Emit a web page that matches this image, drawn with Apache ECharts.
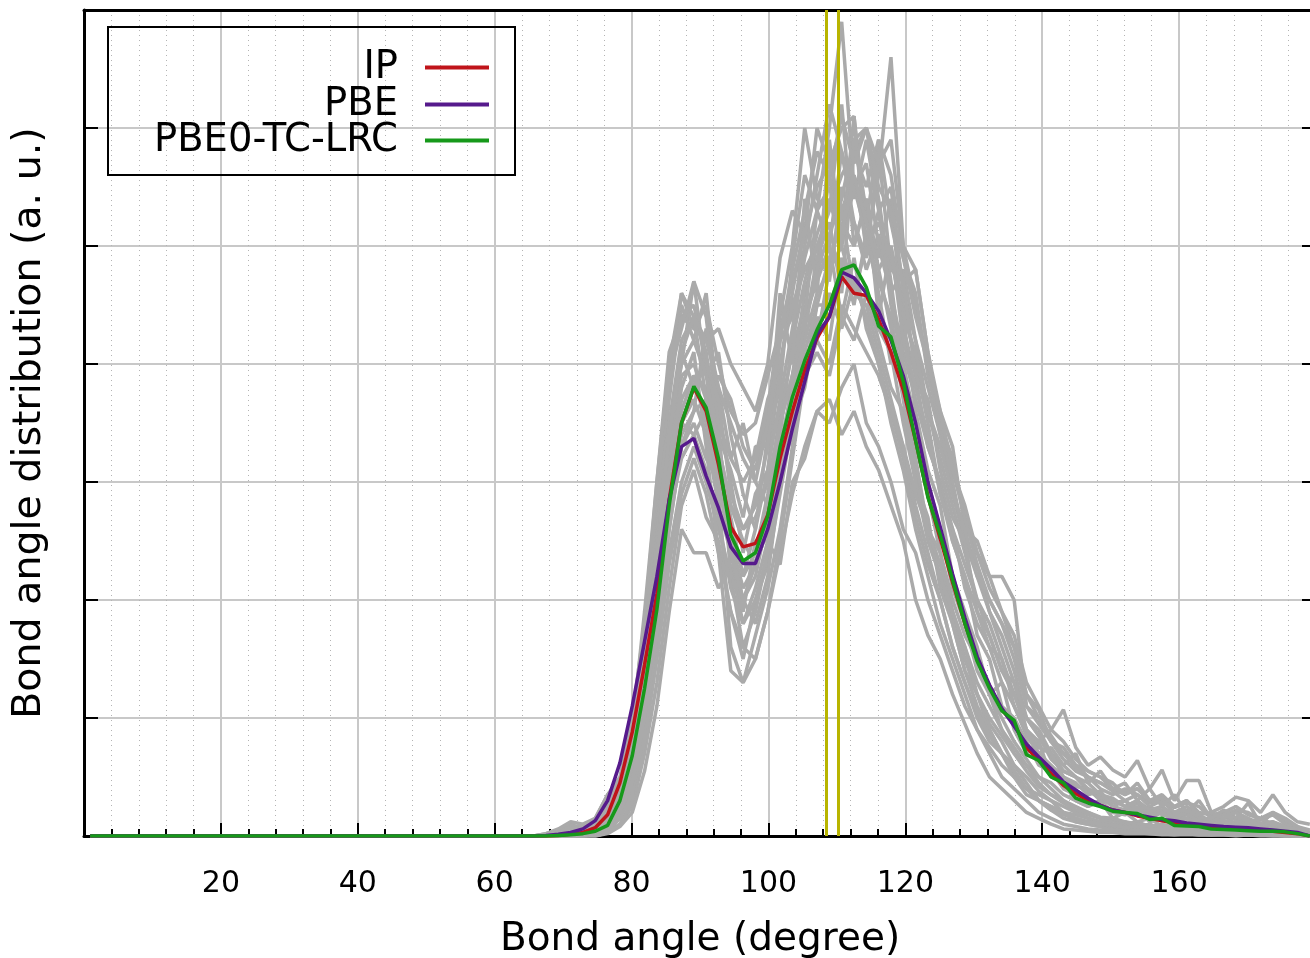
<!DOCTYPE html>
<html>
<head>
<meta charset="utf-8">
<script src="https://cdn.jsdelivr.net/npm/echarts@6/dist/echarts.min.js"></script>
<style>html,body{margin:0;padding:0;background:#fff}#chart{width:1310px;height:958px}</style>
</head>
<body>
<div id="chart"></div>
<script>
// Bin centres (degree); first point is the flat start at the left of the axis
const angles = [0.9, 65.7, 67.5, 69.3, 71.1, 72.9, 74.7, 76.5, 78.3, 80.1, 81.9, 83.7, 85.5, 87.3, 89.1, 90.9, 92.7,
  94.5, 96.3, 98.1, 99.9, 101.7, 103.5, 105.3, 107.1, 108.9, 110.7, 112.5, 114.3, 116.1, 117.9, 119.7, 121.5,
  123.3, 125.1, 126.9, 128.7, 130.5, 132.3, 134.1, 135.9, 137.7, 139.5, 141.3, 143.1, 144.9, 146.7, 148.5, 150.3,
  152.1, 153.9, 155.7, 157.5, 159.3, 161.1, 162.9, 164.7, 166.5, 168.3, 170.1, 171.9, 173.7, 175.5, 177.3, 179.1];

const ipValues = [0, 0, 0, 0.005, 0.015, 0.03, 0.07, 0.18, 0.45, 0.88, 1.45, 2.05, 2.85, 3.5, 3.8, 3.6, 3.15,
  2.62, 2.45, 2.48, 2.72, 3.2, 3.6, 3.95, 4.22, 4.4, 4.74, 4.6, 4.58, 4.38, 4.1, 3.78, 3.35,
  2.88, 2.52, 2.15, 1.8, 1.5, 1.27, 1.07, 0.95, 0.75, 0.64, 0.53, 0.43, 0.36, 0.3, 0.26, 0.22,
  0.2, 0.17, 0.15, 0.13, 0.11, 0.1, 0.09, 0.08, 0.07, 0.06, 0.05, 0.05, 0.04, 0.03, 0.02, 0.0];

const pbeValues = [0, 0, 0.005, 0.015, 0.03, 0.06, 0.13, 0.3, 0.62, 1.1, 1.65, 2.2, 2.85, 3.3, 3.37, 3.05, 2.78,
  2.45, 2.31, 2.31, 2.6, 3.0, 3.45, 3.85, 4.25, 4.4, 4.78, 4.73, 4.6, 4.45, 4.2, 3.9, 3.5,
  3.0, 2.62, 2.22, 1.85, 1.52, 1.28, 1.08, 0.93, 0.78, 0.67, 0.57, 0.46, 0.39, 0.32, 0.26, 0.22,
  0.2, 0.18, 0.16, 0.14, 0.13, 0.11, 0.1, 0.09, 0.08, 0.075, 0.07, 0.06, 0.05, 0.04, 0.03, 0.0];

const pbe0Values = [0, 0, 0, 0.005, 0.01, 0.02, 0.04, 0.09, 0.3, 0.68, 1.25, 1.92, 2.8, 3.5, 3.81, 3.63, 3.2,
  2.55, 2.33, 2.4, 2.71, 3.3, 3.72, 4.03, 4.29, 4.5, 4.8, 4.84, 4.65, 4.32, 4.23, 3.85, 3.35,
  2.87, 2.55, 2.17, 1.8, 1.48, 1.25, 1.06, 0.98, 0.69, 0.64, 0.5, 0.45, 0.32, 0.28, 0.25, 0.21,
  0.2, 0.19, 0.14, 0.15, 0.09, 0.085, 0.08, 0.06, 0.055, 0.05, 0.045, 0.04, 0.04, 0.035, 0.02, 0.0];

// Individual (grey) distributions
const grey01 = [0, 0, 0, 0.02, 0.05, 0.03, 0.08, 0.2, 0.4, 0.8, 1.5, 2.6, 3.7, 4.5, 4.2, 4.6, 3.6,
  3.0, 2.4, 2.9, 3.1, 4.0, 4.6, 5.2, 4.8, 5.6, 5.1, 5.9, 5.3, 4.9, 5.4, 4.3, 3.9,
  3.3, 3.0, 2.5, 2.2, 1.7, 1.5, 1.1, 1.0, 0.8, 0.6, 0.55, 0.4, 0.35, 0.3, 0.28, 0.2,
  0.18, 0.22, 0.12, 0.15, 0.1, 0.12, 0.08, 0.06, 0.05, 0.08, 0.04, 0.05, 0.03, 0.04, 0.02, 0];
const grey02 = [0, 0, 0, 0, 0, 0, 0.01, 0.03, 0.1, 0.25, 0.7, 1.3, 2.1, 2.8, 3.1, 2.7, 2.5,
  1.9, 1.5, 2.0, 2.3, 2.9, 3.5, 3.8, 4.4, 4.2, 4.9, 4.5, 5.1, 4.6, 4.0, 4.4, 3.6,
  3.1, 2.8, 2.2, 1.9, 1.6, 1.2, 1.3, 0.9, 0.7, 0.8, 0.5, 0.45, 0.3, 0.25, 0.3, 0.15,
  0.2, 0.12, 0.15, 0.08, 0.1, 0.06, 0.07, 0.04, 0.05, 0.03, 0.04, 0.02, 0.03, 0.02, 0.01, 0];
const grey03 = [0, 0, 0.02, 0.05, 0.1, 0.06, 0.12, 0.3, 0.45, 0.9, 1.6, 2.4, 3.4, 4.0, 4.7, 3.9, 4.1,
  3.4, 2.9, 2.6, 3.4, 3.8, 4.9, 5.6, 5.3, 6.0, 6.9, 5.5, 5.7, 5.0, 4.6, 4.8, 4.2,
  3.6, 3.2, 2.8, 2.4, 2.0, 1.8, 1.5, 1.2, 1.0, 0.9, 0.7, 0.55, 0.5, 0.45, 0.35, 0.3,
  0.25, 0.3, 0.2, 0.22, 0.15, 0.18, 0.12, 0.1, 0.12, 0.08, 0.1, 0.06, 0.08, 0.05, 0.03, 0.01];
const grey04 = [0, 0, 0, 0, 0.02, 0.01, 0.03, 0.1, 0.3, 0.6, 1.2, 2.0, 3.0, 3.6, 3.9, 3.5, 2.9,
  1.6, 1.3, 1.7, 2.1, 2.6, 3.3, 4.3, 4.9, 5.2, 4.6, 5.8, 6.0, 5.4, 4.7, 3.9, 3.3,
  2.9, 2.4, 1.9, 1.5, 1.2, 0.9, 0.7, 0.6, 0.45, 0.3, 0.25, 0.2, 0.12, 0.1, 0.08, 0.06,
  0.05, 0.04, 0.05, 0.03, 0.02, 0.03, 0.02, 0.01, 0.02, 0.01, 0.02, 0.01, 0.01, 0.01, 0, 0];
const grey05 = [0, 0, 0, 0.01, 0.03, 0.05, 0.1, 0.25, 0.4, 0.8, 1.3, 2.2, 2.9, 3.4, 3.6, 4.3, 3.8,
  3.2, 3.5, 3.0, 2.8, 3.6, 4.1, 4.5, 4.2, 4.8, 5.3, 4.6, 5.0, 5.6, 6.6, 5.0, 4.5,
  4.0, 3.4, 3.1, 2.7, 2.4, 2.1, 1.9, 1.6, 1.2, 1.07, 0.8, 0.7, 0.6, 0.5, 0.45, 0.4,
  0.35, 0.45, 0.3, 0.35, 0.25, 0.3, 0.2, 0.18, 0.2, 0.25, 0.18, 0.15, 0.2, 0.12, 0.08, 0.03];
const grey06 = [0, 0, 0, 0, 0, 0.02, 0.05, 0.15, 0.35, 0.7, 1.1, 1.8, 2.6, 3.3, 3.5, 3.2, 3.0,
  2.6, 2.2, 2.4, 2.9, 3.5, 3.9, 4.6, 5.0, 4.7, 5.5, 5.2, 4.8, 5.1, 4.6, 4.1, 3.7,
  3.3, 3.0, 2.6, 2.3, 2.0, 1.7, 1.4, 1.3, 0.9, 0.8, 0.9, 1.07, 0.75, 0.6, 0.67, 0.56,
  0.5, 0.64, 0.4, 0.56, 0.3, 0.47, 0.47, 0.2, 0.25, 0.33, 0.3, 0.2, 0.35, 0.2, 0.12, 0.1];
const grey07 = [0, 0, 0.02, 0.06, 0.12, 0.1, 0.15, 0.35, 0.5, 1.0, 1.8, 3.0, 4.1, 4.4, 4.5, 4.0, 3.3,
  2.8, 2.5, 2.3, 2.6, 3.2, 3.8, 4.4, 4.7, 5.0, 4.4, 4.9, 4.3, 4.0, 3.6, 3.2, 2.7,
  2.3, 2.0, 1.6, 1.3, 1.0, 0.8, 0.7, 0.5, 0.4, 0.35, 0.3, 0.2, 0.18, 0.15, 0.12, 0.1,
  0.08, 0.1, 0.06, 0.05, 0.04, 0.05, 0.03, 0.02, 0.03, 0.02, 0.02, 0.01, 0.02, 0.01, 0.01, 0];
const grey08 = [0, 0, 0, 0.01, 0.02, 0.02, 0.06, 0.18, 0.4, 0.75, 1.4, 2.3, 3.2, 3.9, 4.0, 3.7, 3.9,
  3.7, 3.3, 3.1, 3.6, 4.4, 5.0, 6.0, 5.4, 5.3, 6.2, 5.0, 5.4, 4.4, 5.0, 4.5, 4.0,
  3.5, 2.9, 2.6, 2.1, 1.8, 1.6, 1.3, 1.1, 0.85, 0.7, 0.6, 0.5, 0.42, 0.4, 0.3, 0.28,
  0.3, 0.2, 0.25, 0.18, 0.15, 0.2, 0.12, 0.1, 0.08, 0.12, 0.1, 0.07, 0.09, 0.05, 0.03, 0];
const grey09 = [0, 0, 0, 0, 0, 0, 0, 0.02, 0.08, 0.2, 0.55, 1.1, 1.9, 2.6, 2.4, 2.4, 2.1,
  2.3, 1.8, 2.1, 2.5, 2.3, 3.0, 3.2, 3.6, 3.5, 3.8, 4.0, 3.5, 3.3, 3.0, 2.6, 2.4,
  2.0, 1.7, 1.4, 1.1, 0.9, 0.7, 0.5, 0.4, 0.3, 0.2, 0.15, 0.1, 0.08, 0.06, 0.05, 0.04,
  0.03, 0.03, 0.02, 0.02, 0.01, 0.02, 0.01, 0.01, 0.01, 0.01, 0.01, 0.01, 0.01, 0, 0, 0];
const grey10 = [0, 0, 0.01, 0.03, 0.08, 0.08, 0.15, 0.35, 0.45, 0.9, 1.7, 2.7, 3.8, 4.6, 4.3, 4.2, 4.3,
  4.0, 3.8, 3.6, 4.0, 4.9, 5.3, 5.1, 6.0, 5.7, 6.0, 6.1, 5.2, 5.9, 5.2, 4.7, 4.8,
  4.1, 3.6, 3.3, 2.6, 2.5, 2.2, 2.2, 2.0, 1.1, 0.95, 0.8, 0.65, 0.55, 0.5, 0.4, 0.35,
  0.4, 0.35, 0.28, 0.3, 0.2, 0.25, 0.18, 0.12, 0.15, 0.2, 0.15, 0.1, 0.12, 0.08, 0.05, 0.02];
const grey11 = [0, 0, 0, 0, 0.01, 0.01, 0.04, 0.12, 0.25, 0.5, 1.0, 1.6, 2.4, 3.0, 3.3, 3.0, 2.6,
  2.2, 2.0, 1.8, 2.2, 3.0, 3.5, 3.9, 4.1, 3.9, 4.4, 4.2, 4.6, 4.2, 3.8, 3.6, 3.1,
  2.6, 2.3, 1.9, 1.6, 1.3, 1.1, 0.9, 0.75, 0.6, 0.5, 0.4, 0.3, 0.25, 0.2, 0.15, 0.13,
  0.1, 0.12, 0.08, 0.07, 0.06, 0.05, 0.04, 0.03, 0.03, 0.04, 0.02, 0.03, 0.02, 0.02, 0.01, 0];
const grey12 = [0, 0, 0, 0.02, 0.06, 0.04, 0.1, 0.28, 0.45, 0.9, 1.5, 2.8, 3.5, 4.2, 4.4, 4.1, 3.4,
  3.1, 2.7, 3.3, 3.3, 4.2, 4.4, 5.0, 5.6, 6.2, 5.8, 5.4, 5.9, 5.3, 5.5, 4.6, 4.2,
  3.8, 3.4, 2.9, 2.5, 2.2, 1.9, 1.7, 1.4, 1.0, 0.85, 0.7, 0.6, 0.5, 0.38, 0.33, 0.25,
  0.22, 0.28, 0.18, 0.2, 0.14, 0.15, 0.1, 0.08, 0.1, 0.07, 0.08, 0.05, 0.06, 0.04, 0.02, 0];
const grey13 = [0, 0, 0, 0, 0, 0, 0.01, 0.04, 0.15, 0.4, 1.0, 2.0, 3.0, 3.7, 3.9, 3.8, 3.2,
  2.5, 2.1, 2.3, 2.8, 3.4, 4.2, 4.7, 5.1, 5.4, 5.0, 5.5, 5.1, 4.7, 4.4, 3.8, 3.2,
  2.6, 2.2, 1.8, 1.4, 1.1, 0.9, 0.7, 0.55, 0.4, 0.3, 0.22, 0.15, 0.12, 0.1, 0.08, 0.05,
  0.05, 0.04, 0.03, 0.03, 0.02, 0.02, 0.01, 0.01, 0.01, 0.01, 0.01, 0.01, 0, 0, 0, 0];
const grey14 = [0, 0, 0, 0.01, 0.03, 0.02, 0.05, 0.15, 0.35, 0.7, 1.6, 2.9, 3.9, 4.3, 4.7, 4.4, 3.5,
  2.2, 1.6, 1.9, 2.4, 3.1, 3.9, 4.4, 5.3, 5.0, 5.8, 5.2, 4.9, 5.3, 4.5, 4.0, 3.5,
  3.0, 2.6, 2.1, 1.8, 1.4, 1.2, 0.9, 0.7, 0.6, 0.45, 0.35, 0.3, 0.22, 0.18, 0.15, 0.1,
  0.12, 0.08, 0.1, 0.06, 0.05, 0.06, 0.04, 0.03, 0.03, 0.04, 0.02, 0.02, 0.03, 0.01, 0.01, 0];
const grey15 = [0, 0, 0, 0, 0.01, 0.02, 0.03, 0.08, 0.2, 0.5, 1.1, 1.9, 2.7, 3.2, 3.4, 3.6, 3.5,
  3.2, 3.0, 3.2, 3.7, 4.0, 4.5, 4.8, 5.0, 5.3, 5.6, 5.8, 5.5, 5.9, 5.6, 4.9, 4.6,
  3.9, 3.5, 3.0, 2.5, 2.3, 1.9, 1.6, 1.3, 1.0, 0.85, 0.65, 0.55, 0.5, 0.4, 0.35, 0.32,
  0.25, 0.3, 0.22, 0.25, 0.18, 0.2, 0.15, 0.12, 0.12, 0.15, 0.1, 0.08, 0.1, 0.06, 0.04, 0.02];
const grey16 = [0, 0, 0, 0, 0, 0, 0, 0.03, 0.1, 0.3, 0.8, 1.5, 2.3, 2.9, 3.2, 2.9, 2.4,
  1.9, 1.6, 1.5, 1.9, 2.4, 2.9, 3.3, 3.6, 3.7, 3.4, 3.6, 3.3, 3.1, 2.8, 2.5, 2.0,
  1.7, 1.5, 1.2, 0.95, 0.7, 0.5, 0.4, 0.3, 0.2, 0.15, 0.1, 0.06, 0.05, 0.04, 0.03, 0.03,
  0.02, 0.02, 0.02, 0.01, 0.01, 0.01, 0.01, 0.01, 0.01, 0, 0.01, 0, 0, 0, 0, 0];
const grey17 = [0, 0, 0, 0.01, 0.02, 0.01, 0.05, 0.13, 0.3, 0.6, 1.3, 2.3, 3.3, 4.1, 3.8, 4.0, 3.7,
  2.9, 2.6, 2.8, 3.3, 4.6, 4.0, 5.4, 4.6, 5.9, 5.0, 6.1, 4.9, 5.8, 4.8, 4.7, 3.9,
  3.7, 3.1, 2.7, 2.5, 1.9, 1.7, 1.4, 1.2, 0.9, 0.75, 0.7, 0.5, 0.45, 0.35, 0.38, 0.25,
  0.3, 0.22, 0.2, 0.25, 0.15, 0.2, 0.12, 0.1, 0.1, 0.12, 0.06, 0.08, 0.05, 0.05, 0.03, 0];
const grey18 = [0, 0, 0, 0, 0.01, 0.01, 0.02, 0.08, 0.22, 0.55, 1.2, 2.1, 3.1, 3.8, 4.1, 3.3, 2.4,
  1.4, 1.3, 1.5, 1.9, 2.5, 3.2, 3.9, 4.5, 4.9, 5.2, 5.0, 5.4, 4.8, 4.3, 3.7, 3.0,
  2.7, 2.1, 1.8, 1.4, 1.2, 0.95, 0.8, 0.6, 0.5, 0.38, 0.3, 0.25, 0.2, 0.15, 0.12, 0.1,
  0.08, 0.07, 0.06, 0.05, 0.04, 0.03, 0.03, 0.02, 0.02, 0.02, 0.01, 0.01, 0.01, 0.01, 0, 0];
const grey19 = [0, 0, 0, 0.01, 0.04, 0.03, 0.07, 0.2, 0.4, 0.85, 1.7, 2.9, 3.9, 4.4, 4.3, 4.5, 4.0,
  3.6, 3.4, 3.5, 3.9, 4.3, 4.7, 5.1, 5.5, 5.7, 5.3, 5.6, 5.0, 5.2, 4.9, 4.4, 4.1,
  3.6, 3.3, 2.9, 2.6, 2.2, 2.0, 1.8, 1.5, 1.1, 1.0, 0.8, 0.75, 0.6, 0.55, 0.5, 0.4,
  0.38, 0.4, 0.3, 0.32, 0.24, 0.28, 0.25, 0.15, 0.18, 0.22, 0.2, 0.14, 0.18, 0.1, 0.06, 0.02];
const grey20 = [0, 0, 0, 0, 0, 0.01, 0.02, 0.06, 0.2, 0.5, 1.1, 2.1, 2.9, 3.5, 3.7, 3.4, 2.8,
  2.4, 1.9, 2.5, 2.5, 3.3, 3.7, 4.1, 4.5, 4.5, 4.8, 4.7, 4.4, 4.3, 4.1, 3.5, 3.0,
  2.5, 2.2, 1.9, 1.6, 1.2, 1.0, 0.85, 0.7, 0.55, 0.42, 0.35, 0.28, 0.22, 0.2, 0.16, 0.15,
  0.12, 0.1, 0.08, 0.1, 0.07, 0.06, 0.05, 0.04, 0.04, 0.05, 0.03, 0.03, 0.02, 0.02, 0.01, 0];
const grey21 = [0, 0, 0, 0, 0, 0.01, 0.02, 0.05, 0.15, 0.35, 0.9, 1.7, 2.6, 3.3, 3.6, 3.7, 3.3,
  2.8, 2.6, 2.7, 3.0, 3.5, 3.9, 4.3, 4.8, 5.1, 5.4, 5.9, 6.0, 5.7, 5.9, 5.0, 4.8,
  4.1, 3.5, 3.2, 2.7, 2.3, 2.0, 1.8, 1.6, 1.2, 1.0, 0.85, 0.7, 0.58, 0.5, 0.45, 0.38,
  0.3, 0.35, 0.25, 0.3, 0.2, 0.22, 0.16, 0.14, 0.15, 0.16, 0.12, 0.1, 0.12, 0.08, 0.05, 0.02];
const grey22 = [0, 0, 0.01, 0.02, 0.05, 0.05, 0.1, 0.25, 0.45, 0.9, 1.9, 3.0, 4.0, 4.6, 4.4, 3.7, 3.1,
  2.5, 2.0, 2.2, 2.7, 3.3, 3.8, 4.2, 4.6, 4.8, 5.0, 4.6, 4.5, 4.1, 3.7, 3.3, 2.8,
  2.4, 2.0, 1.6, 1.3, 1.05, 0.85, 0.7, 0.55, 0.4, 0.3, 0.25, 0.2, 0.15, 0.12, 0.1, 0.08,
  0.06, 0.05, 0.05, 0.04, 0.03, 0.03, 0.02, 0.02, 0.02, 0.01, 0.01, 0.01, 0.01, 0, 0, 0];
const grey23 = [0, 0, 0, 0, 0.01, 0.02, 0.03, 0.1, 0.3, 0.7, 1.4, 2.5, 3.5, 4.0, 4.2, 3.9, 3.3,
  2.7, 2.2, 2.6, 3.1, 3.7, 4.3, 4.9, 5.3, 5.5, 5.1, 5.6, 5.2, 4.8, 5.0, 4.2, 3.8,
  3.4, 2.9, 2.5, 2.2, 1.9, 1.6, 1.5, 1.1, 0.9, 0.7, 0.75, 0.6, 0.7, 0.45, 0.55, 0.4,
  0.45, 0.3, 0.4, 0.25, 0.35, 0.2, 0.3, 0.15, 0.22, 0.15, 0.28, 0.1, 0.2, 0.15, 0.08, 0.05];
const grey24 = [0, 0, 0, 0, 0, 0.01, 0.02, 0.07, 0.2, 0.45, 1.0, 1.9, 2.8, 3.5, 3.8, 3.6, 3.0,
  2.4, 2.0, 2.3, 2.6, 3.1, 3.4, 3.9, 4.2, 4.0, 4.5, 4.3, 4.1, 3.9, 3.6, 3.3, 2.9,
  2.6, 2.4, 2.0, 1.7, 1.5, 1.2, 1.0, 0.8, 0.65, 0.5, 0.45, 0.35, 0.3, 0.25, 0.3, 0.2,
  0.2, 0.25, 0.15, 0.2, 0.12, 0.15, 0.1, 0.12, 0.08, 0.1, 0.06, 0.08, 0.05, 0.04, 0.02, 0];
const grey25 = [0, 0, 0, 0, 0.01, 0.01, 0.03, 0.09, 0.25, 0.6, 1.3, 2.4, 3.4, 4.1, 4.4, 4.2, 3.8,
  3.5, 3.2, 3.0, 3.5, 4.2, 4.8, 5.3, 5.8, 5.6, 6.1, 5.7, 6.0, 5.5, 5.3, 4.9, 4.4,
  4.0, 3.6, 3.1, 2.8, 2.4, 2.2, 1.9, 1.7, 1.3, 1.1, 0.9, 0.8, 0.65, 0.55, 0.5, 0.45,
  0.35, 0.4, 0.3, 0.28, 0.25, 0.3, 0.18, 0.2, 0.15, 0.2, 0.12, 0.15, 0.1, 0.08, 0.05, 0.02];
const grey26 = [0, 0, 0.01, 0.03, 0.07, 0.06, 0.12, 0.3, 0.45, 0.85, 1.5, 2.4, 3.1, 3.5, 3.4, 3.1, 2.7,
  2.1, 1.8, 2.0, 2.4, 3.0, 3.6, 4.0, 4.3, 4.6, 4.3, 4.7, 4.4, 4.0, 3.5, 3.1, 2.6,
  2.2, 1.8, 1.5, 1.2, 0.9, 0.75, 0.6, 0.5, 0.35, 0.3, 0.22, 0.18, 0.15, 0.12, 0.1, 0.09,
  0.07, 0.08, 0.05, 0.05, 0.04, 0.04, 0.03, 0.02, 0.02, 0.02, 0.02, 0.01, 0.01, 0.01, 0, 0];

const greySets = [grey01, grey02, grey03, grey04, grey05, grey06, grey07, grey08, grey09, grey10, grey11, grey12,
  grey13, grey14, grey15, grey16, grey17, grey18, grey19, grey20, grey21, grey22, grey23, grey24, grey25, grey26];

// Reference angles (vertical lines)
const refAngles = [108.45, 110.2];

const xTicks = [20, 40, 60, 80, 100, 120, 140, 160];

const seriesNames = ['IP', 'PBE', 'PBE0-TC-LRC'];
const seriesColors = ['#c0141a', '#561a8c', '#16991a'];
const seriesValues = [ipValues, pbeValues, pbe0Values];

const FONT = 'DejaVu Sans';
const pair = vals => angles.map((a, i) => [a, vals[i]]);

const series = [];
greySets.forEach((g, k) => {
  series.push({
    name: 'grey' + k, type: 'line', data: pair(g), symbol: 'none', silent: true,
    lineStyle: { color: '#aaaaaa', width: 3.5 }, z: 2
  });
});
series.push({
  name: 'ref', type: 'line', data: [], symbol: 'none', silent: true, z: 3,
  markLine: {
    symbol: 'none', silent: true, animation: false, label: { show: false },
    lineStyle: { color: '#b8b400', width: 3, type: 'solid' },
    data: refAngles.map(a => ({ xAxis: a }))
  }
});
seriesNames.forEach((n, k) => {
  series.push({
    name: n, type: 'line', data: pair(seriesValues[k]), symbol: 'none',
    lineStyle: { color: seriesColors[k], width: 3.5 }, itemStyle: { color: seriesColors[k] }, z: 5
  });
});

const legendTops = [48, 85, 121];
const legends = seriesNames.map((n, k) => ({
  data: [n], orient: 'vertical', align: 'right', right: 821, top: legendTops[k], padding: 0,
  icon: 'rect', itemWidth: 64, itemHeight: 4,
  textStyle: { fontFamily: FONT, fontSize: 38.5, color: '#000', padding: [0, 22, 0, 0] },
  selectedMode: false
}));

const chart = echarts.init(document.getElementById('chart'), null, { renderer: 'canvas' });
chart.setOption({
  animation: false,
  backgroundColor: '#fff',
  grid: { left: 84, top: 10, width: 1232, bottom: 122, containLabel: false, outerBoundsMode: 'none' },
  legend: legends,
  graphic: [{
    type: 'rect', left: 107, top: 26, z: 100,
    shape: { width: 407, height: 148 },
    style: { fill: 'rgba(0,0,0,0)', stroke: '#000', lineWidth: 2 }
  }],
  xAxis: [{
    type: 'value', min: 0, max: 180, interval: 20, position: 'bottom',
    name: 'Bond angle (degree)', nameLocation: 'middle', nameGap: 84,
    nameTextStyle: { fontFamily: FONT, fontSize: 39, color: '#000' },
    axisLine: { show: true, onZero: false, lineStyle: { color: '#000', width: 3 } },
    axisTick: { show: true, inside: true, length: 13, lineStyle: { color: '#000', width: 2 } },
    minorTick: { show: true, splitNumber: 5, length: 7, lineStyle: { color: '#000', width: 2 } },
    splitLine: { show: true, lineStyle: { color: '#c8c8c8', width: 2 } },
    minorSplitLine: { show: true, lineStyle: { color: '#b4b4b4', width: 1, type: [1, 4] } },
    axisLabel: {
      fontFamily: FONT, fontSize: 30, color: '#000', margin: 33,
      formatter: v => (xTicks.indexOf(v) >= 0 ? String(v) : '')
    }
  }, {
    type: 'value', min: 0, max: 180, interval: 20, position: 'top',
    axisLine: { show: true, onZero: false, lineStyle: { color: '#000', width: 3 } },
    axisTick: { show: false }, axisLabel: { show: false }, splitLine: { show: false }
  }],
  yAxis: [{
    type: 'value', min: 0, max: 7, interval: 1, position: 'left',
    name: 'Bond angle distribution (a. u.)', nameLocation: 'middle', nameGap: 34,
    nameTextStyle: { fontFamily: FONT, fontSize: 39.5, color: '#000' },
    axisLine: { show: true, onZero: false, lineStyle: { color: '#000', width: 3 } },
    axisTick: { show: true, inside: true, length: 14, lineStyle: { color: '#000', width: 2 } },
    splitLine: { show: true, lineStyle: { color: '#c8c8c8', width: 2 } },
    axisLabel: { show: false }
  }, {
    type: 'value', min: 0, max: 7, interval: 1, position: 'right',
    axisLine: { show: true, onZero: false, lineStyle: { color: '#000', width: 3 } },
    axisTick: { show: true, inside: true, length: 14, lineStyle: { color: '#000', width: 2 } },
    splitLine: { show: false }, axisLabel: { show: false }
  }],
  series: series
});
</script>
</body>
</html>
